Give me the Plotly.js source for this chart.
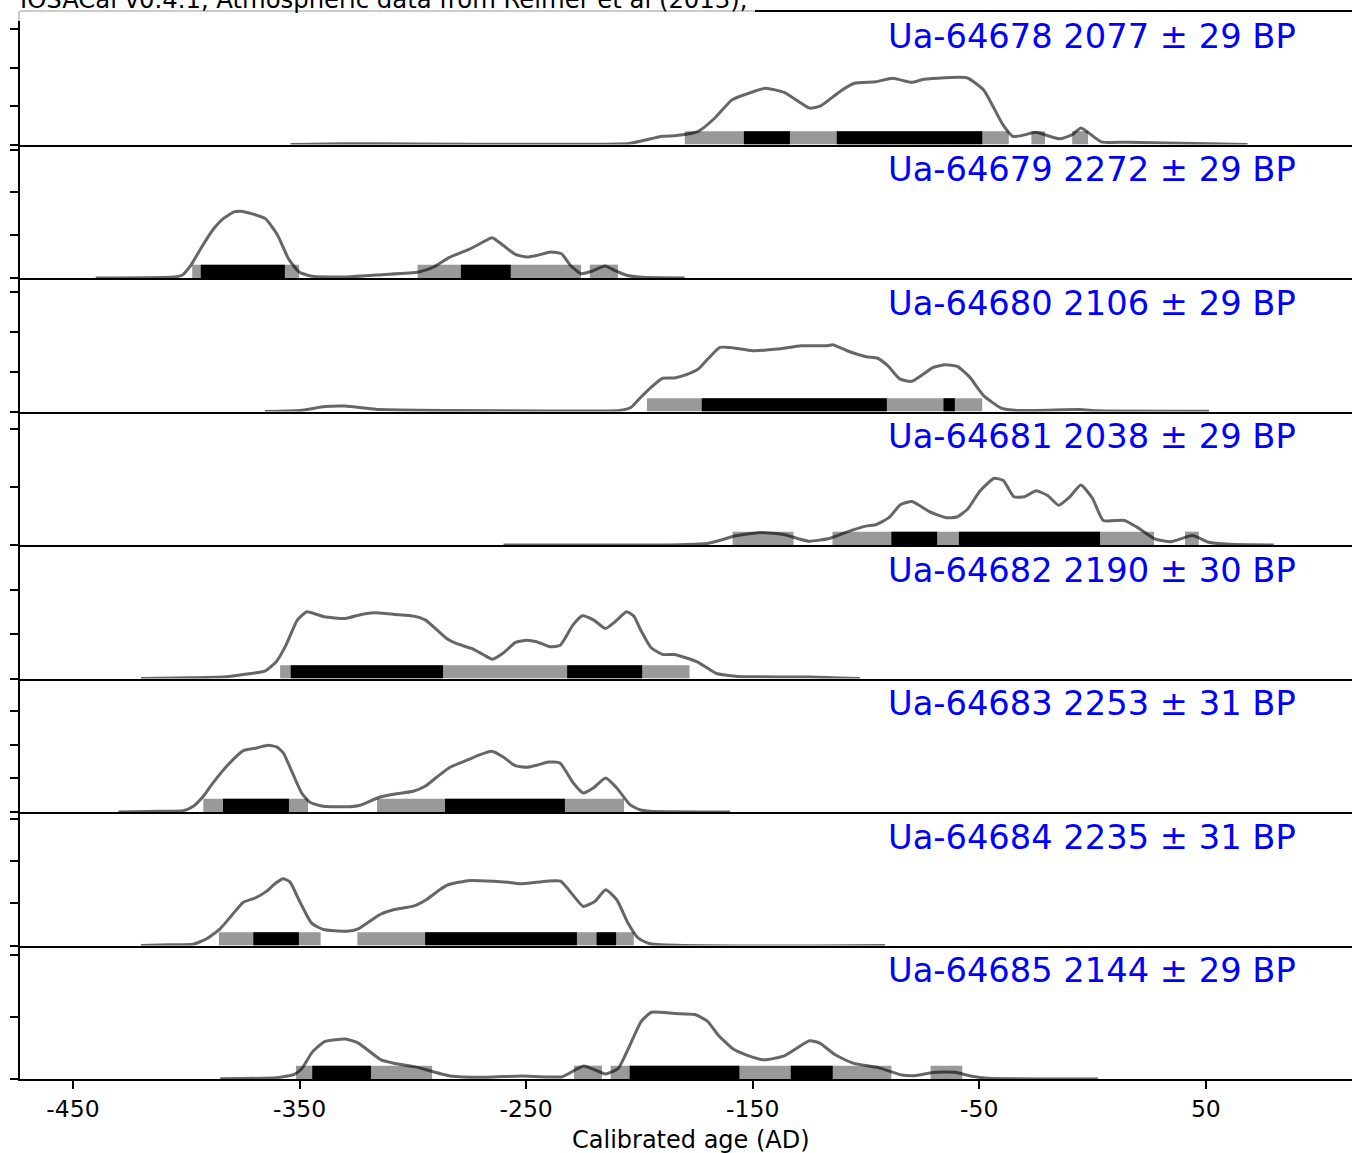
<!DOCTYPE html>
<html>
<head>
<meta charset="utf-8">
<script src="https://cdn.plot.ly/plotly-3.0.1.min.js"></script>
<style>html,body{margin:0;padding:0;background:#fff;}</style>
</head>
<body>
<div id="chart" style="width:1352px;height:1153px;"></div>
<script>
// ---------------- DATA ----------------
const titleText = "IOSACal v0.4.1, Atmospheric data from Reimer et al (2013);";
const xTitle = "Calibrated age (AD)";
const tickVals = [-450, -350, -250, -150, -50, 50];
const tickLabels = ["-450", "-350", "-250", "-150", "-50", "50"];

const sampleLabels = [
  "Ua-64678 2077 ± 29 BP",
  "Ua-64679 2272 ± 29 BP",
  "Ua-64680 2106 ± 29 BP",
  "Ua-64681 2038 ± 29 BP",
  "Ua-64682 2190 ± 30 BP",
  "Ua-64683 2253 ± 31 BP",
  "Ua-64684 2235 ± 31 BP",
  "Ua-64685 2144 ± 29 BP"
];

// peak probability density of each calibrated curve, and the density tick step of its axis
const peakDensity = [0.0087, 0.0156, 0.0084, 0.0115, 0.0075, 0.0099, 0.0079, 0.0108];
const densityTickStep = [0.005, 0.01, 0.005, 0.01, 0.005, 0.005, 0.005, 0.01];

// calibrated curves: age (AD) and relative probability (arbitrary units)
const ageA = [-354,-330,-300,-250,-204.7,-189.9,-183.6,-174.0,-166.7,-159.2,-153.9,-144.4,-135.9,-124.9,-120.0,-111.6,-105.2,-95.7,-88.3,-79.8,-74.5,-55.5,-48.1,-39.6,-35.3,-31.2,-25.2,-14.6,-8.9,-5.1,3.8,15.5,68.4];
const probA = [0,0.8,0.5,0.3,1,8.3,9,13.3,26.7,45,50,56.7,52.3,36.7,39,53.3,61.7,63.3,66.7,62.7,65.7,67.3,55,20,8.3,9,12.3,5.7,10,16.7,2.7,2.3,0];

const ageB = [-440,-405.7,-401.9,-398.0,-393.2,-388.4,-383.7,-378.9,-376.0,-371.2,-365.1,-359.7,-354.9,-350.2,-344.4,-329.1,-313.8,-297.5,-290.8,-284.1,-275.5,-269.8,-265.0,-260.2,-254.5,-249.7,-244.9,-239.2,-234.4,-230.5,-225.8,-221.0,-215.2,-210.4,-205.7,-199.0,-180];
const probB = [0,1,2.7,12.7,31,47.7,59.3,66,66.7,64.3,59.3,42.7,19.3,6,1.7,1,3.3,6,11,20.3,28.3,35,40.3,32.7,23.3,21,22.7,26,24.3,12.7,4.3,6.7,12,7,2.7,0.7,0];

const ageC = [-365.3,-349.8,-338.8,-330,-314.5,-283.6,-239.5,-208.9,-203.6,-199.4,-194.5,-189.9,-184.6,-179.3,-174.0,-169.8,-164.5,-160.2,-149.7,-139.1,-128.5,-116.9,-114.7,-108.4,-99.9,-95.1,-90.4,-85.1,-79.8,-70.3,-65.0,-59.7,-54.4,-48.1,-40.6,-33.2,-5.7,2.7,51.4];
const probC = [0,1,5,5.5,2,1,0.5,1,4.3,14.3,25,33.3,33.7,37,42.7,52.7,64.3,64.3,61,62.7,66,66,67,61,55,53.7,46,32.7,30.3,44.3,47,45.3,35,16,3.7,1,2,0.7,0.3];

const ageD = [-260,-182.1,-169.5,-156.9,-145.9,-136.4,-125.3,-115.9,-108.0,-100.1,-95.4,-89.9,-84.7,-79.7,-71.8,-64.7,-59.9,-55.2,-49.7,-43.4,-39.4,-34.7,-30.0,-24.9,-19.7,-15.0,-10.3,-5.2,0.0,4.7,14.1,19.6,27.5,34.6,44.1,51.2,60.6,80];
const probD = [0,0.3,1.7,9.3,12.3,10.3,3.7,6.7,13.3,18.7,20.3,27,40,43,32.7,27,27.7,35.3,53.3,66,63.7,47.7,47.7,53.7,48.7,39.3,47,59.3,46,24.3,24.3,17.7,6,3.3,9.3,2.7,0.7,0];

const ageE = [-420,-398.3,-382.3,-373.8,-365.4,-360.3,-356.0,-351.0,-346.8,-339.2,-329.9,-322.3,-317.2,-307.9,-299.5,-294.4,-285.1,-280.9,-274.1,-269.0,-264.9,-259.8,-254.7,-249.6,-245.4,-239.5,-234.9,-229.4,-225.2,-220.1,-215.0,-210.0,-205.7,-202.4,-199.8,-194.8,-189.7,-184.6,-174.5,-166.0,-157.6,-151.2,-124.7,-102.7];
const probE = [0,0.7,1.7,4.3,7.3,16.7,33.3,58.3,66.7,61.7,60,64.3,65.7,64,62.3,58.3,40,35,30,24,19.3,26,36,38.3,36.7,31.7,33.3,53.3,62.7,58.3,50,58.3,66.7,62.3,50,30.7,24,24,16.7,5,2.3,1.7,1.5,0];

const ageF = [-430,-411.6,-401.3,-396.9,-392.5,-388.8,-382.2,-374.8,-368.9,-363.8,-360.1,-357.2,-352.8,-349.1,-345.4,-339.5,-327.8,-323.3,-314.5,-307.1,-299.8,-294.6,-289.5,-283.6,-275.5,-270.4,-265.2,-260.1,-254.9,-249.8,-245.3,-240.2,-235.1,-229.2,-224.8,-220.4,-214.9,-210.0,-204.2,-199.8,-195.3,-160];
const probF = [0,0.7,1.3,5.7,15.7,27.3,45.7,61.3,64,66.7,65,59,37.3,19,9.7,5.7,5.3,6.7,15,18.3,20.7,25.7,34.7,44.7,52.3,57.3,60.7,55,46.3,44.7,46.7,50,49,29,19,24,34,24,7.3,2.3,0.7,0];

const ageG = [-420,-407.2,-396.9,-391.0,-385.1,-380.0,-374.8,-369.7,-364.5,-360.9,-357.2,-354.2,-349.8,-344.7,-339.5,-329.2,-324.1,-314.5,-308.6,-299.8,-293.9,-288.0,-284.4,-274.8,-263.0,-257.9,-252.7,-240.9,-234.8,-229.2,-224.8,-219.6,-214.9,-210.0,-204.9,-200.5,-195.3,-91.6];
const probG = [0,0.7,1.3,6.7,16.7,30,43.3,47.3,54.3,61.7,66.7,63.3,43.3,22.3,16,14.3,16.7,31,35.7,39.3,46,56,60.7,65,64,63.3,61.7,64.3,64.3,50,39,44.3,55.7,45.7,21.7,7.3,1.7,0];

const ageH = [-385,-360.2,-352.3,-348.9,-344.4,-338.8,-329.8,-324.1,-314.0,-308.4,-299.4,-283.6,-267.9,-252.1,-234.1,-224.6,-214.9,-209.3,-204.8,-199.2,-194.7,-184.5,-175.5,-169.9,-165.4,-158.6,-153.0,-145.1,-136.1,-124.9,-120.4,-113.6,-105.7,-94.5,-84.3,-78.7,-69.7,-60.7,-53.9,-46.0,2.4];
const probH = [0.3,1.3,4.7,10.7,26.7,37.3,39.7,35.7,19,15.7,12.3,3,1.7,3,2.3,13,5,10.7,30.7,57.3,66.3,65,64,57.3,44,29.7,24,19,23,38,35.7,24,15.7,11.3,4,3.3,6.7,6.7,3,0.7,0];

// highest-density ranges [from, to] (AD)
const range95 = [
  [[-180,-37],[-27,-21],[-9,-2]],
  [[-397.4,-350.2],[-297.9,-225.8],[-221.9,-209.5]],
  [[-196.7,-48.7]],
  [[-158.9,-132.0],[-114.8,27.1],[40.8,46.9]],
  [[-358.6,-177.9]],
  [[-392.5,-346.3],[-315.8,-206.8]],
  [[-385.6,-340.7],[-324.5,-202.5]],
  [[-351.6,-291.5],[-228.9,-216.5],[-212.7,-88.8],[-71.5,-57.5]]
];
const range68 = [
  [[-153.9,-133.6],[-112.9,-48.7]],
  [[-393.6,-356.5],[-278.8,-256.8]],
  [[-172.5,-90.8],[-65.8,-60.8]],
  [[-88.8,-68.6],[-59.0,3.3]],
  [[-353.9,-286.7],[-231.9,-198.8]],
  [[-383.8,-354.7],[-285.8,-232.9]],
  [[-370.4,-350.3],[-294.6,-227.6],[-218.9,-210.3]],
  [[-344.4,-318.5],[-204.3,-155.9],[-133.2,-114.7]]
];

// ---------------- BUILD ----------------
const ages = [ageA, ageB, ageC, ageD, ageE, ageF, ageG, ageH];
const probs = [probA, probB, probC, probD, probE, probF, probG, probH];
const N = 8;
const FONT = "DejaVu Sans, Verdana, sans-serif";
const xRange = [-473.4, 114.5];

const traces = [];
const layout = {
  width: 1352, height: 1153,
  margin: {l: 20, r: 0, t: 11, b: 74, pad: 0},
  paper_bgcolor: "#ffffff", plot_bgcolor: "#ffffff",
  showlegend: false, barmode: "overlay",
  font: {family: FONT, size: 24, color: "#000000"},
  annotations: [], shapes: []
};

for (let i = 0; i < N; i++) {
  const p = i + 1;
  const xa = p === 1 ? "x" : "x" + p;
  const ya = p === 1 ? "y" : "y" + p;
  const peak = peakDensity[i];
  const pr = probs[i];
  const maxRel = Math.max(...pr);
  const dens = pr.map(v => v / maxRel * peak);
  const barH = 0.2 * peak;

  const mk = (ranges, color) => ({
    type: "bar", xaxis: xa, yaxis: ya,
    x: ranges.map(r => (r[0] + r[1]) / 2),
    width: ranges.map(r => r[1] - r[0]),
    y: ranges.map(() => barH),
    base: 0,
    marker: {color: color, line: {width: 0}},
    hoverinfo: "skip"
  });
  traces.push(mk(range95[i], "#999999"));
  traces.push(mk(range68[i], "#000000"));
  traces.push({
    type: "scatter", mode: "lines", xaxis: xa, yaxis: ya,
    x: ages[i], y: dens,
    line: {color: "rgba(0,0,0,0.6)", width: 3, shape: "spline", smoothing: 0.5},
    hoverinfo: "skip"
  });

  const xKey = p === 1 ? "xaxis" : "xaxis" + p;
  const yKey = p === 1 ? "yaxis" : "yaxis" + p;
  const last = p === N;
  layout[xKey] = {
    domain: [0, 1], anchor: ya, range: xRange,
    showline: true, linecolor: "#000000", linewidth: 2,
    showgrid: false, zeroline: false, fixedrange: true,
    ticks: last ? "outside" : "", ticklen: 8, tickwidth: 2, tickcolor: "#000000",
    tickmode: "array", tickvals: tickVals, ticktext: tickLabels,
    showticklabels: last,
    tickfont: {family: FONT, size: 23.5, color: "#000000"}
  };
  if (p > 1) layout[xKey].matches = "x";
  layout[yKey] = {
    domain: [1 - p / N, 1 - (p - 1) / N], anchor: xa,
    range: [0, 2 * peak],
    showline: true, linecolor: "#000000", linewidth: 2,
    showgrid: false, zeroline: false, fixedrange: true,
    ticks: "outside", ticklen: 8, tickwidth: 2, tickcolor: "#000000",
    tick0: 0, dtick: densityTickStep[i], showticklabels: false
  };
  layout.annotations.push({
    text: sampleLabels[i], xref: "paper", yref: ya + " domain",
    x: 0.958, y: 0.811, xanchor: "right", yanchor: "middle",
    showarrow: false, borderpad: 0, borderwidth: 0,
    font: {family: FONT, size: 33.7, color: "#0000ff"}
  });
}

// x axis title (as an annotation below the bottom axis)
layout.annotations.push({
  text: xTitle, xref: "paper", yref: "paper",
  x: 0.5041, y: 0, yshift: -61, xanchor: "center", yanchor: "middle",
  showarrow: false, borderpad: 0, borderwidth: 0,
  font: {family: FONT, size: 24, color: "#000000"}
});

// top frame line
layout.shapes.push({type: "line", xref: "paper", yref: "paper", x0: 0, x1: 1, y0: 1, y1: 1,
  line: {color: "#000000", width: 2}});
// title (clipped at the top, semi-transparent white box)
layout.annotations.push({
  text: titleText, xref: "paper", yref: "paper",
  x: -0.00526, y: 1, xanchor: "left", yanchor: "bottom", yshift: -10,
  showarrow: false, bgcolor: "rgba(255,255,255,0.8)", borderwidth: 0, borderpad: 7,
  font: {family: FONT, size: 24.3, color: "#000000"}
});

Plotly.newPlot("chart", traces, layout, {displayModeBar: false, staticPlot: true});
</script>
</body>
</html>
